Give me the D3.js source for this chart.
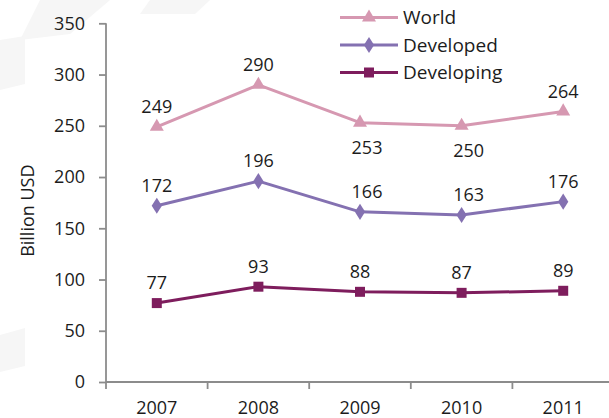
<!DOCTYPE html>
<html>
<head>
<meta charset="utf-8">
<script src="https://cdn.jsdelivr.net/npm/d3@7"></script>
<style>
  html, body { margin: 0; padding: 0; background: #ffffff; }
  svg { display: block; }
  text { font-family: "Open Sans", Lato, sans-serif; fill: #1c1c1c; }
</style>
</head>
<body>
<svg id="chart" width="609" height="418"></svg>
<script>
// ---- data ----
const years = ["2007", "2008", "2009", "2010", "2011"];
const world = [249, 290, 253, 250, 264];
const developed = [172, 196, 166, 163, 176];
const developing = [77, 93, 88, 87, 89];
const seriesNames = ["World", "Developed", "Developing"];
const yTicks = [0, 50, 100, 150, 200, 250, 300, 350];
const yTitle = "Billion USD";
// label placement per series ("above" / "below")
const worldLabelPos = ["above", "above", "below", "below", "above"];
const developedLabelPos = ["above", "above", "above", "above", "above"];
const developingLabelPos = ["above", "above", "above", "above", "above"];

// ---- layout ----
const W = 609, H = 418;
const plot = { left: 106, right: 614, top: 23.3, bottom: 382 };
const svg = d3.select("#chart");
const FONT = "'Open Sans', Lato, sans-serif";

// faint background watermark shapes
const bg = svg.append("g");
const wm = [
  [[40,0],[110,0],[70,34],[20,40]],
  [[150,0],[210,0],[195,14],[140,14]],
  [[0,40],[25,36],[25,84],[0,90]],
  [[0,335],[25,328],[25,366],[0,372]]
];
bg.selectAll("path").data(wm).join("path")
  .attr("d", d => "M" + d.map(p => p.join(",")).join("L") + "Z")
  .attr("fill", "#f6f6f6");

const x = d3.scaleBand().domain(years).range([plot.left, plot.right]).padding(0);
const y = d3.scaleLinear().domain([0, 350]).range([plot.bottom, plot.top]);

const axisColor = "#8c8c8c";

// y axis
const yAxis = svg.append("g")
  .attr("transform", `translate(${plot.left},0)`)
  .call(d3.axisLeft(y).tickValues(yTicks).tickSize(7).tickPadding(14));
yAxis.select(".domain").attr("stroke", axisColor).attr("stroke-width", 1.8)
  .attr("d", `M0,${plot.top}V${plot.bottom}`);
yAxis.selectAll(".tick line").attr("stroke", axisColor).attr("stroke-width", 1.8);
yAxis.selectAll(".tick text").attr("font-size", 18).attr("fill", "#1c1c1c")
  .attr("font-family", FONT);

// x axis
const xAxis = svg.append("g")
  .attr("transform", `translate(0,${plot.bottom})`)
  .call(d3.axisBottom(x).tickSize(0).tickPadding(0));
xAxis.select(".domain").attr("stroke", axisColor).attr("stroke-width", 1.8)
  .attr("d", `M${plot.left},0H${W}`);
xAxis.selectAll(".tick text").attr("font-size", 18).attr("fill", "#1c1c1c")
  .attr("font-family", FONT)
  .attr("dy", null).attr("y", 32);
// boundary ticks between categories
const bounds = years.map(yr => x(yr));
xAxis.selectAll("line.bound").data(bounds).join("line")
  .attr("class", "bound")
  .attr("x1", d => d).attr("x2", d => d)
  .attr("y1", 0).attr("y2", 7)
  .attr("stroke", axisColor).attr("stroke-width", 1.8);

// y title
svg.append("text")
  .attr("transform", `translate(34,${(plot.top + plot.bottom) / 2 + 8}) rotate(-90)`)
  .attr("text-anchor", "middle")
  .attr("font-size", 18)
  .text(yTitle);

// series
const colors = ["#d698b1", "#8471b1", "#7e1d5d"];
const seriesData = [world, developed, developing];
const labelPos = [worldLabelPos, developedLabelPos, developingLabelPos];
const cx = yr => x(yr) + x.bandwidth() / 2;

const symbols = [d3.symbolTriangle, d3.symbolDiamond, d3.symbolSquare];
const symSizes = [85, 75, 100];

seriesData.forEach((vals, si) => {
  const g = svg.append("g");
  const line = d3.line().x((d, i) => cx(years[i])).y(d => y(d));
  g.append("path").datum(vals)
    .attr("d", line)
    .attr("fill", "none")
    .attr("stroke", colors[si])
    .attr("stroke-width", 3)
    .attr("stroke-linejoin", "round");
  g.selectAll("path.mk").data(vals).join("path")
    .attr("class", "mk")
    .attr("d", d3.symbol().type(symbols[si]).size(symSizes[si]))
    .attr("transform", (d, i) => `translate(${cx(years[i])},${y(d)})${si === 1 ? " scale(1.1,1)" : ""}`)
    .attr("fill", colors[si]);
  g.selectAll("text.lbl").data(vals).join("text")
    .attr("class", "lbl")
    .attr("x", (d, i) => cx(years[i]) + (labelPos[si][i] === "below" || (si === 1 && (i === 2 || i === 3)) ? 7 : 0))
    .attr("y", (d, i) => y(d) + (labelPos[si][i] === "below" ? 25 : -20))
    .attr("dy", "0.35em")
    .attr("text-anchor", "middle")
    .attr("font-size", 18)
    .text(d => d);
});

// legend
const legend = svg.append("g");
seriesNames.forEach((name, i) => {
  const ly = 17.5 + i * 27.5;
  legend.append("line")
    .attr("x1", 340).attr("x2", 398).attr("y1", ly).attr("y2", ly)
    .attr("stroke", colors[i]).attr("stroke-width", 3);
  legend.append("path")
    .attr("d", d3.symbol().type(symbols[i]).size(symSizes[i]))
    .attr("transform", `translate(369,${ly})${i === 1 ? " scale(1.1,1)" : ""}`)
    .attr("fill", colors[i]);
  legend.append("text")
    .attr("x", 403).attr("y", ly).attr("dy", "0.35em")
    .attr("font-size", 19)
    .text(name);
});
</script>
</body>
</html>
